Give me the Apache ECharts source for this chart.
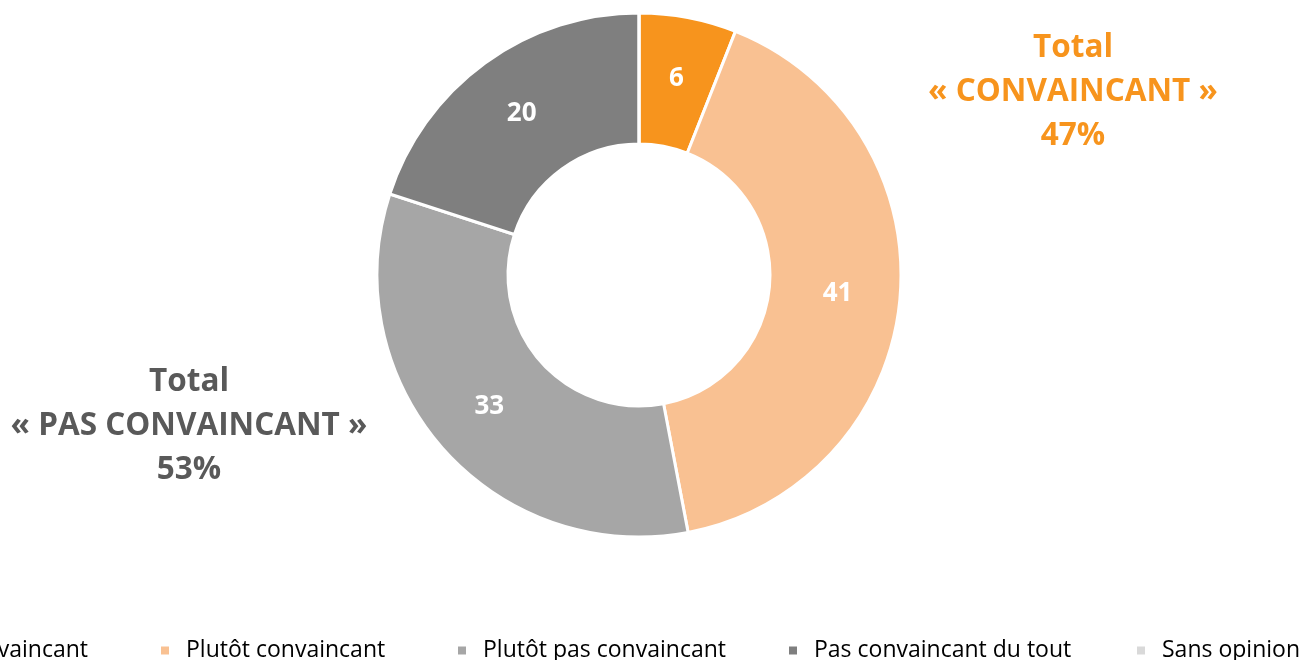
<!DOCTYPE html>
<html>
<head>
<meta charset="utf-8">
<script src="https://cdn.jsdelivr.net/npm/echarts@6/dist/echarts.min.js"></script>
<style>
html,body{margin:0;padding:0;background:#fff;}
#chart{width:1301px;height:660px;}
</style>
</head>
<body>
<div id="chart"></div>
<script>
const categories = ['Très convaincant', 'Plutôt convaincant', 'Plutôt pas convaincant', 'Pas convaincant du tout', 'Sans opinion'];
const values = [6, 41, 33, 20, 0];
const colors = ['#F7941D', '#F9C192', '#A6A6A6', '#7F7F7F', '#D9D9D9'];
const totalConvaincant = ['Total', '« CONVAINCANT »', '47%'];
const totalPasConvaincant = ['Total', '« PAS CONVAINCANT »', '53%'];

const FONT = '"Open Sans"';
const chart = echarts.init(document.getElementById('chart'));

const legendPos = [
  { right: 1208 },
  { left: 154 },
  { left: 451 },
  { left: 782 },
  { left: 1130 }
];
const legends = categories.map((c, i) => Object.assign({
  data: [c],
  top: 634,
  itemWidth: 10,
  itemHeight: 10,
  icon: 'rect',
  textStyle: { fontFamily: FONT, fontSize: 23, color: '#000', padding: [0, 0, 0, 11] }
}, legendPos[i]));

chart.setOption({
  animation: false,
  color: colors,
  legend: legends,
  series: [{
    type: 'pie',
    center: [639, 275],
    radius: [131, 262],
    startAngle: 90,
    clockwise: true,
    avoidLabelOverlap: false,
    itemStyle: { borderColor: '#fff', borderWidth: 3 },
    label: {
      show: true,
      position: 'inside',
      formatter: p => p.value ? String(p.value) : '',
      color: '#fff',
      fontFamily: FONT,
      fontWeight: 'bold',
      fontSize: 26,
      padding: [6, 0, 0, 0]
    },
    labelLine: { show: false },
    data: categories.map((c, i) => ({ name: c, value: values[i] }))
  }],
  graphic: [
    {
      type: 'text', x: 1073, y: 26,
      style: {
        text: totalConvaincant.join('\n'), textAlign: 'center', textVerticalAlign: 'top',
        fill: '#F7941D', fontFamily: 'Open Sans', fontWeight: 'bold', fontSize: 31.5, lineHeight: 44
      }
    },
    {
      type: 'text', x: 189, y: 360,
      style: {
        text: totalPasConvaincant.join('\n'), textAlign: 'center', textVerticalAlign: 'top',
        fill: '#595959', fontFamily: 'Open Sans', fontWeight: 'bold', fontSize: 31.5, lineHeight: 44
      }
    }
  ]
});
</script>
</body>
</html>
